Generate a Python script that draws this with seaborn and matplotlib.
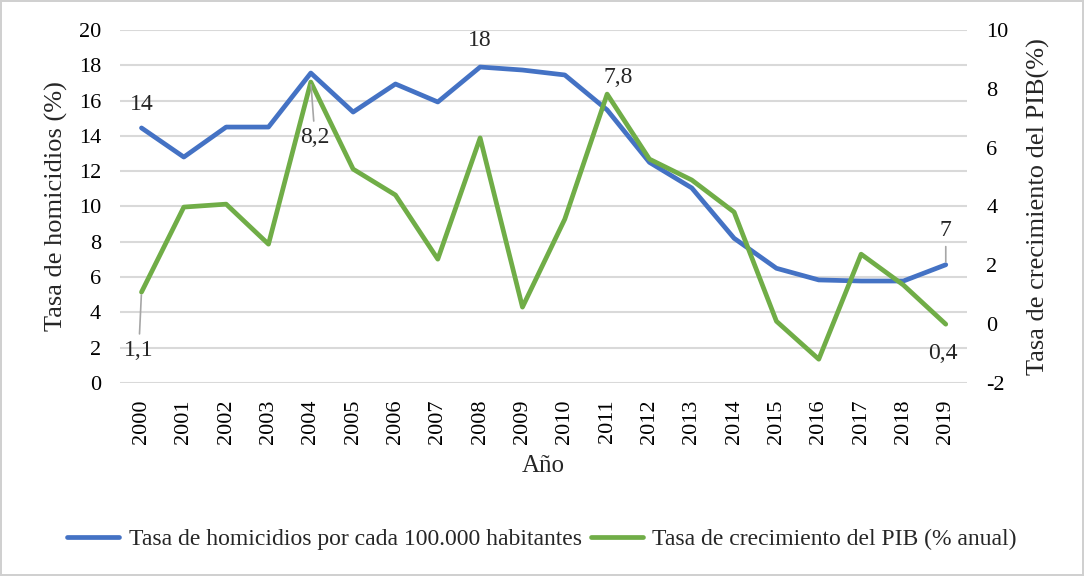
import pandas as pd
import numpy as np
import matplotlib.pyplot as plt
import seaborn as sns

# data
years = ['2000', '2001', '2002', '2003', '2004', '2005', '2006', '2007', '2008', '2009',
         '2010', '2011', '2012', '2013', '2014', '2015', '2016', '2017', '2018', '2019']
homicidios = [14.45, 12.8, 14.5, 14.5, 17.56, 15.35, 16.94, 15.92, 17.9, 17.73,
              17.45, 15.47, 12.5, 11.05, 8.2, 6.5, 5.84, 5.78, 5.78, 6.7]
pib = [1.09, 3.98, 4.08, 2.72, 8.23, 5.27, 4.39, 2.21, 6.33, 0.58,
       3.57, 7.82, 5.61, 4.9, 3.81, 0.1, -1.19, 2.38, 1.33, 0.0]

label_hom = 'Tasa de homicidios por cada 100.000 habitantes'
label_pib = 'Tasa de crecimiento del PIB (% anual)'

blue = '#4472C4'
green = '#70AD47'
grid_c = '#d9d9d9'

sns.set_style('white')
plt.rcParams['font.family'] = ['Liberation Serif', 'DejaVu Serif']
plt.rcParams['axes.unicode_minus'] = False

df = pd.DataFrame({'pos': np.arange(len(years)), 'year': years,
                   'hom': homicidios, 'pib': pib})

fig = plt.figure(figsize=(10.84, 5.76), dpi=100, edgecolor='#d0d0d0', linewidth=1.5)
ax = fig.add_axes([0.111, 0.335, 0.781, 0.613])
ax2 = ax.twinx()

sns.lineplot(data=df, x='pos', y='hom', ax=ax, color=blue, linewidth=3.4, label=label_hom, legend=False)
sns.lineplot(data=df, x='pos', y='pib', ax=ax2, color=green, linewidth=3.4, label=label_pib, legend=False)

ax.set_xlim(-0.5, 19.5)
ax.set_ylim(0, 20)
ax.set_yticks(np.arange(0, 21, 2))
ax2.set_ylim(-2, 10)
ax2.set_yticks(np.arange(-2, 11, 2))
ax.set_xticks(df['pos'])
ax.set_xticklabels(years, rotation=90)

ax.yaxis.grid(True, color=grid_c, linewidth=1.5)
ax.set_axisbelow(True)
for a in (ax, ax2):
    for s in a.spines.values():
        s.set_visible(False)
    a.tick_params(length=0, labelsize=16, colors='black')
ax.tick_params(axis='y', pad=14)
ax.tick_params(axis='x', pad=12)
ax2.tick_params(axis='y', pad=14)

ax.set_xlabel('Año', fontsize=18, labelpad=8)
ax.set_ylabel('Tasa de homicidios (%)', fontsize=19, labelpad=8)
ax2.set_ylabel('Tasa de crecimiento del PIB(%)', fontsize=19, labelpad=13)

lead = dict(arrowstyle='-', color='#a6a6a6', lw=1.2, shrinkA=2, shrinkB=2)


def label(a, i, val, text, dx, dy, arrow=False):
    a.annotate(text, xy=(i, val), xytext=(dx, dy), textcoords='offset points',
               ha='center', va='center', fontsize=17,
               arrowprops=lead if arrow else None)


label(ax, 0, homicidios[0], '14', 0, 17)
label(ax, 8, homicidios[8], '18', 0, 19)
label(ax, 19, homicidios[19], '7', 0, 25, arrow=True)
label(ax2, 0, pib[0], '1,1', -2, -42, arrow=True)
label(ax2, 4, pib[4], '8,2', 3, -40, arrow=True)
label(ax2, 11, pib[11], '7,8', 8, 12)
label(ax2, 19, pib[19], '0,4', -2, -21)

h1, l1 = ax.get_legend_handles_labels()
h2, l2 = ax2.get_legend_handles_labels()
fig.legend(h1 + h2, l1 + l2, loc='center', bbox_to_anchor=(0.5, 0.063), ncol=2,
           frameon=False, fontsize=17, handlelength=2.2, handletextpad=0.4, columnspacing=0.4)

fig.savefig('out.png', dpi=100, edgecolor=fig.get_edgecolor())
